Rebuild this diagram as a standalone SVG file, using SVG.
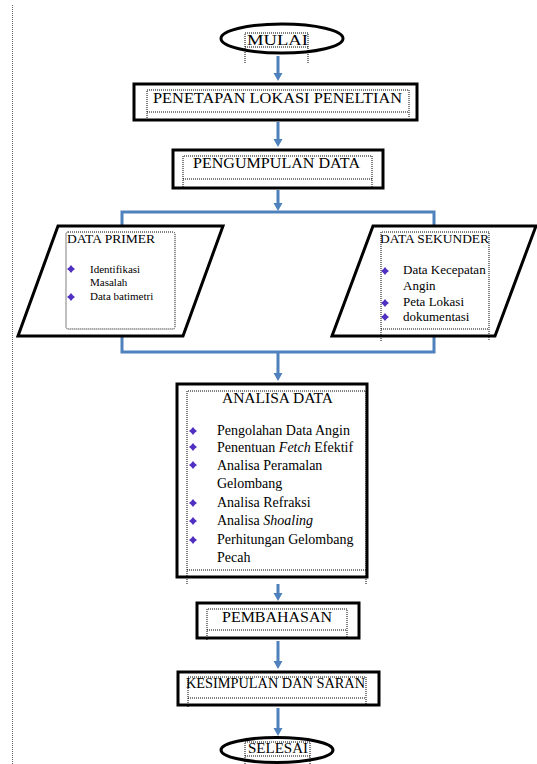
<svg xmlns="http://www.w3.org/2000/svg" width="537" height="764" viewBox="0 0 537 764">
<style>
.box{fill:#fff;stroke:#000;stroke-width:3}
.dot{fill:none;stroke:#000;stroke-width:1;stroke-dasharray:1 1}
.t{font-family:"Liberation Serif","Times New Roman",serif;fill:#000;}
.ttl{font-size:14px;}
.item{font-size:14px;}
.sm{font-size:11px;}
.md{font-size:13px;}
.conn{fill:none;stroke:#4f81bd;stroke-width:3}
.bul{fill:#5030c0}
</style>
<defs>
<marker id="ah" markerUnits="userSpaceOnUse" markerWidth="10" markerHeight="10" refX="2" refY="5" orient="auto">
<path d="M0,0.5 L8,5 L0,9.5 Z" fill="#4f81bd"/>
</marker>
<path id="b" d="M0,-4 L1.8,-1.8 L4,0 L1.8,1.8 L0,4 L-1.8,1.8 L-4,0 L-1.8,-1.8 Z"/>
<clipPath id="clipR"><rect x="381" y="230" width="108" height="112"/></clipPath>
</defs>
<rect width="537" height="764" fill="#fff"/>
<line x1="12.5" y1="5" x2="12.5" y2="764" stroke="#666" stroke-width="1" stroke-dasharray="1 1"/>

<g id="connectors">
<line class="conn" x1="278" y1="56" x2="278" y2="75" marker-end="url(#ah)"/>
<line class="conn" x1="278" y1="122" x2="278" y2="141" marker-end="url(#ah)"/>
<line class="conn" x1="278" y1="190" x2="278" y2="205" marker-end="url(#ah)"/>
<path class="conn" d="M122,226 V212 H434 V226"/>
<path class="conn" d="M122,336 V352 H434 V336"/>
<line class="conn" x1="278" y1="352" x2="278" y2="375" marker-end="url(#ah)"/>
<line class="conn" x1="278" y1="584" x2="278" y2="595" marker-end="url(#ah)"/>
<line class="conn" x1="278" y1="641" x2="278" y2="663" marker-end="url(#ah)"/>
<line class="conn" x1="278" y1="708" x2="278" y2="730" marker-end="url(#ah)"/>
</g>

<g id="mulai">
<ellipse cx="282" cy="38.5" rx="61" ry="14.5" fill="#fff" stroke="#000" stroke-width="3"/>
<path class="dot" d="M245,63 V33 H308 V63 M245,47 H308"/>
<text class="t ttl" x="247" y="45" textLength="61" lengthAdjust="spacingAndGlyphs">MULAI</text>
</g>

<g id="penetapan">
<rect class="box" x="134" y="84" width="283" height="36"/>
<path class="dot" d="M147,118 V90 H409 V118 M147,112 H409"/>
<text class="t ttl" x="153" y="103" textLength="249" lengthAdjust="spacingAndGlyphs">PENETAPAN LOKASI PENELTIAN</text>
</g>

<g id="pengumpulan">
<rect class="box" x="173" y="150" width="210" height="38"/>
<path class="dot" d="M183,187 V156 H372 V187 M183,179 H372"/>
<text class="t ttl" x="193" y="168" textLength="167" lengthAdjust="spacingAndGlyphs">PENGUMPULAN DATA</text>
</g>

<g id="data-primer">
<polygon points="58,226 223,226 183,336 18,336" fill="#fff" stroke="#000" stroke-width="3"/>
<rect class="dot" x="66" y="232" width="109" height="97" rx="2"/>
<text class="t" x="67" y="243" font-size="13" textLength="88" lengthAdjust="spacingAndGlyphs">DATA PRIMER</text>
<use href="#b" class="bul" x="71" y="269"/>
<use href="#b" class="bul" x="71" y="297"/>
<text class="t sm" x="90" y="273">Identifikasi</text>
<text class="t sm" x="90" y="286">Masalah</text>
<text class="t sm" x="90" y="300">Data batimetri</text>
</g>

<g id="data-sekunder">
<polygon points="373,226 536,226 495,336 332,336" fill="#fff" stroke="#000" stroke-width="3"/>
<path class="dot" d="M381,341 V232 H489 V341 M381,329 H489"/>
<text class="t" x="380" y="243" font-size="13" textLength="109" lengthAdjust="spacingAndGlyphs">DATA SEKUNDER</text>
<use href="#b" class="bul" x="385" y="271"/>
<use href="#b" class="bul" x="385" y="303"/>
<use href="#b" class="bul" x="385" y="317"/>
<g clip-path="url(#clipR)">
<text class="t md" x="403" y="274">Data Kecepatan</text>
<text class="t md" x="403" y="290">Angin</text>
<text class="t md" x="403" y="306">Peta Lokasi</text>
<text class="t md" x="403" y="321">dokumentasi</text>
</g>
</g>

<g id="analisa">
<rect class="box" x="177" y="384" width="190" height="193"/>
<path class="dot" d="M187,584 V391 H366 V584 M187,570 H366"/>
<text class="t ttl" x="222" y="403" textLength="111" lengthAdjust="spacingAndGlyphs">ANALISA DATA</text>
<use href="#b" class="bul" x="193" y="431"/>
<use href="#b" class="bul" x="193" y="447"/>
<use href="#b" class="bul" x="193" y="465"/>
<use href="#b" class="bul" x="193" y="503"/>
<use href="#b" class="bul" x="193" y="521"/>
<use href="#b" class="bul" x="193" y="540"/>
<text class="t item" x="217" y="435">Pengolahan Data Angin</text>
<text class="t item" x="217" y="452">Penentuan <tspan font-style="italic">Fetch</tspan> Efektif</text>
<text class="t item" x="217" y="470">Analisa Peramalan</text>
<text class="t item" x="217" y="488">Gelombang</text>
<text class="t item" x="217" y="507">Analisa Refraksi</text>
<text class="t item" x="217" y="525">Analisa <tspan font-style="italic">Shoaling</tspan></text>
<text class="t item" x="217" y="544">Perhitungan Gelombang</text>
<text class="t item" x="217" y="562">Pecah</text>
</g>

<g id="pembahasan">
<rect class="box" x="197" y="603" width="162" height="35"/>
<path class="dot" d="M207,640 V609 H347 V640 M207,630 H347"/>
<text class="t ttl" x="222" y="622" textLength="110" lengthAdjust="spacingAndGlyphs">PEMBAHASAN</text>
</g>

<g id="kesimpulan">
<rect class="box" x="178" y="672" width="201" height="33"/>
<path class="dot" d="M188,707 V677 H366 V707 M188,698 H366"/>
<text class="t ttl" x="186" y="688" textLength="179" lengthAdjust="spacingAndGlyphs">KESIMPULAN DAN SARAN</text>
</g>

<g id="selesai">
<ellipse cx="277" cy="750" rx="56" ry="12.5" fill="#fff" stroke="#000" stroke-width="3"/>
<path class="dot" d="M245,764 V742 H310 V764 M245,756 H310"/>
<text class="t ttl" x="248" y="753" textLength="60" lengthAdjust="spacingAndGlyphs">SELESAI</text>
</g>
</svg>
